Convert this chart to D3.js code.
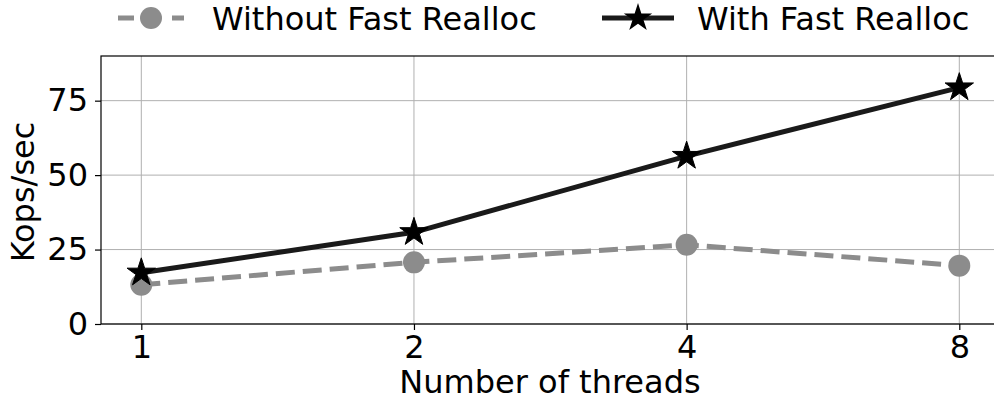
<!DOCTYPE html>
<html><head><meta charset="utf-8">
<script src="https://cdn.jsdelivr.net/npm/d3@7"></script>
<style>body{margin:0;background:#fff}svg{display:block;font-family:"DejaVu Sans",sans-serif}</style>
</head><body><svg id="c" width="994" height="401"></svg>
<script>
const threads = ["1", "2", "4", "8"];
const withoutFast = [13.2, 20.7, 26.6, 19.6];
const withFast = [17.2, 30.8, 56.4, 79.4];
const yTicks = [0, 25, 50, 75];
const seriesNames = ["Without Fast Realloc", "With Fast Realloc"];

const svg = d3.select("#c");
const L = 101, R = 1000, T = 56, B = 324;
const x = d3.scalePoint().domain(threads).range([141.3, 959.3]);
const y = d3.scaleLinear().domain([0, 90]).range([B, T]);

svg.append("defs").append("clipPath").attr("id","clip")
  .append("rect").attr("x",L).attr("y",T).attr("width",R-L).attr("height",B-T);

// grid
const g = svg.append("g");
g.selectAll(".gx").data(threads).join("line")
  .attr("x1",d=>x(d)).attr("x2",d=>x(d)).attr("y1",T).attr("y2",B)
  .attr("stroke","#b0b0b0").attr("stroke-width",1);
g.selectAll(".gy").data(yTicks).join("line")
  .attr("x1",L).attr("x2",R).attr("y1",d=>y(d)).attr("y2",d=>y(d))
  .attr("stroke","#b0b0b0").attr("stroke-width",1);

// axes
const xa = svg.append("g").attr("transform",`translate(0,${B})`)
  .call(d3.axisBottom(x).tickSize(6).tickPadding(5));
const ya = svg.append("g").attr("transform",`translate(${L},0)`)
  .call(d3.axisLeft(y).tickValues(yTicks).tickSize(6).tickPadding(7));
[xa, ya].forEach(a => {
  a.select(".domain").remove();
  a.selectAll("line").attr("stroke","#000").attr("stroke-width",1.2);
  a.selectAll("text").attr("font-size",32).attr("fill","#000").attr("font-family","DejaVu Sans");
});
// frame
svg.append("rect").attr("x",L).attr("y",T).attr("width",R-L).attr("height",B-T)
  .attr("fill","none").attr("stroke","#000").attr("stroke-width",1.2);

// lines
const plot = svg.append("g").attr("clip-path","url(#clip)");
const line = d3.line().x((d,i)=>x(threads[i])).y(d=>y(d));
plot.append("path").datum(withoutFast).attr("d",line).attr("fill","none")
  .attr("stroke","#8c8c8c").attr("stroke-width",5).attr("stroke-dasharray","19,8");
plot.selectAll(".c").data(withoutFast).join("circle")
  .attr("cx",(d,i)=>x(threads[i])).attr("cy",d=>y(d)).attr("r",11).attr("fill","#8c8c8c");
plot.append("path").datum(withFast).attr("d",line).attr("fill","none")
  .attr("stroke","#1a1a1a").attr("stroke-width",5);
const star = d3.symbol().type(d3.symbolStar).size(250);
svg.selectAll(".s").data(withFast).join("path")
  .attr("d",star).attr("transform",(d,i)=>`translate(${x(threads[i])},${y(d)})`)
  .attr("fill","#000").attr("stroke","#000").attr("stroke-width",1);

// axis labels
svg.append("text").attr("x",550).attr("y",393).attr("text-anchor","middle")
  .attr("font-size",32).text("Number of threads");
svg.append("text").attr("transform","translate(34,192) rotate(-90)").attr("text-anchor","middle")
  .attr("font-size",32).text("Kops/sec");

// legend
const lg = svg.append("g");
lg.append("line").attr("x1",118).attr("x2",184).attr("y1",18).attr("y2",18)
  .attr("stroke","#8c8c8c").attr("stroke-width",5).attr("stroke-dasharray","16,11");
lg.append("circle").attr("cx",151).attr("cy",18).attr("r",11).attr("fill","#8c8c8c");
lg.append("text").attr("x",212).attr("y",30).attr("font-size",32).text(seriesNames[0]);
lg.append("line").attr("x1",602).attr("x2",674).attr("y1",18).attr("y2",18)
  .attr("stroke","#1a1a1a").attr("stroke-width",5);
lg.append("path").attr("d",star).attr("transform","translate(638,18)").attr("fill","#000");
lg.append("text").attr("x",697).attr("y",30).attr("font-size",32).text(seriesNames[1]);
</script></body></html>
